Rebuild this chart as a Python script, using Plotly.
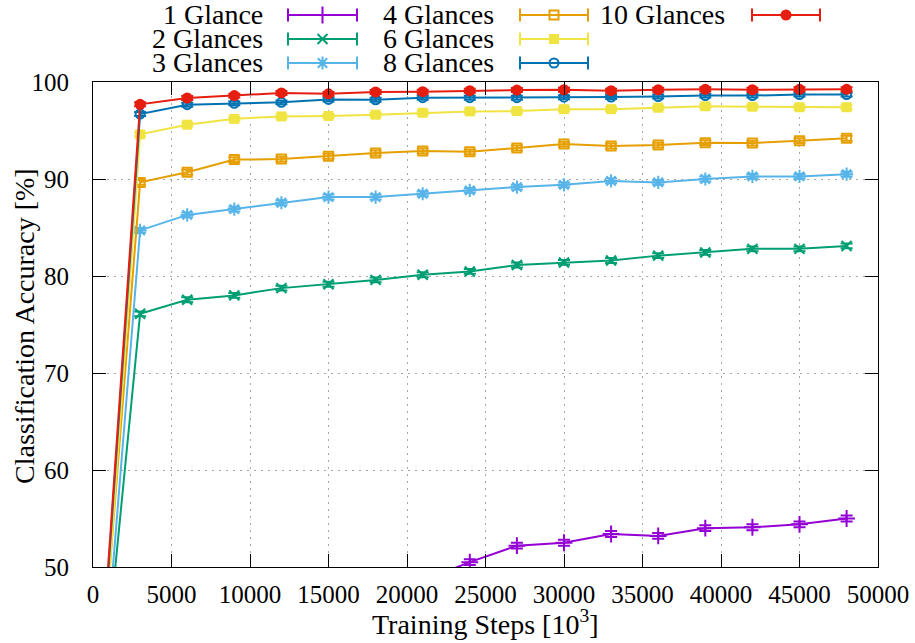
import plotly.graph_objects as go

# Training steps (x 10^3) at which accuracy was evaluated
steps = [0, 3000, 6000, 9000, 12000, 15000, 18000, 21000, 24000,
         27000, 30000, 33000, 36000, 39000, 42000, 45000, 48000]

# Classification accuracy [%] per number of glances
acc_1 = [25.0, 37.5, 41.2, 43.0, 44.6, 45.9, 47.3, 48.6, 50.5,
         52.2, 52.5, 53.4, 53.2, 54.0, 54.1, 54.4, 55.0]
acc_2 = [26.5, 76.1, 77.55, 78.0, 78.75, 79.15, 79.6, 80.13, 80.47,
         81.13, 81.4, 81.6, 82.1, 82.43, 82.8, 82.8, 83.1]
acc_3 = [24.5, 84.7, 86.3, 86.9, 87.55, 88.14, 88.14, 88.48, 88.82,
         89.17, 89.4, 89.8, 89.65, 90.0, 90.27, 90.27, 90.5]
acc_4 = [28.0, 89.65, 90.7, 92.0, 92.05, 92.35, 92.68, 92.89, 92.8,
         93.2, 93.6, 93.4, 93.5, 93.75, 93.7, 93.95, 94.2]
acc_6 = [25.0, 94.6, 95.6, 96.2, 96.45, 96.5, 96.63, 96.83, 96.97,
         97.0, 97.2, 97.2, 97.35, 97.5, 97.45, 97.4, 97.4]
acc_8 = [27.0, 96.7, 97.66, 97.8, 97.9, 98.2, 98.17, 98.38, 98.38,
         98.38, 98.43, 98.45, 98.5, 98.6, 98.6, 98.7, 98.7]
acc_10 = [27.5, 97.7, 98.35, 98.6, 98.87, 98.78, 98.97, 99.0, 99.1,
          99.17, 99.2, 99.1, 99.2, 99.25, 99.2, 99.25, 99.25]

# Half-width of the error bars [%]
err_1, err_2, err_3, err_4, err_6, err_8, err_10 = 0.3, 0.25, 0.25, 0.25, 0.2, 0.2, 0.2

labels = ["1 Glance", "2 Glances", "3 Glances", "4 Glances",
          "6 Glances", "8 Glances", "10 Glances"]
y_ticks = [50, 60, 70, 80, 90, 100]
x_ticks = [0, 5000, 10000, 15000, 20000, 25000, 30000, 35000, 40000, 45000, 50000]

series = [
    (labels[0], acc_1, err_1, "#9400d3", "cross-thin-open", 12),
    (labels[1], acc_2, err_2, "#009e73", "x-thin-open", 10),
    (labels[2], acc_3, err_3, "#56b4e9", "asterisk-open", 11),
    (labels[3], acc_4, err_4, "#e69f00", "square-open", 9),
    (labels[4], acc_6, err_6, "#f0e442", "square", 10),
    (labels[5], acc_8, err_8, "#0072b2", "circle-open", 9),
    (labels[6], acc_10, err_10, "#e51e10", "circle", 11),
]

FONT = "Liberation Serif, Tinos, Times New Roman, DejaVu Serif, serif"
TXT = 28   # key and axis-title size
TICK = 25  # tick-label size
W, H = 915, 643
L, R, B = 93, 37, 76          # margins in px (top margin 0, key area is an inset axis)
PW, PH = W - L - R, H - B     # plot-area size
TOP = 82                      # pixel row of the upper frame edge
dom_top = (PH - TOP) / PH


def px(xp):
    return (xp - L) / PW


def py(yp):
    return (PH - yp) / PH


fig = go.Figure()

for name, acc, err, color, sym, size in series:
    filled = sym in ("square", "circle")
    fig.add_trace(go.Scatter(
        x=steps, y=acc, name=name, mode="lines+markers",
        line=dict(color=color, width=2),
        marker=dict(symbol=sym, size=size, color=color,
                    line=dict(color=color, width=0 if filled else 2)),
        error_y=dict(type="constant", value=err, color=color,
                     thickness=2, width=6),
        showlegend=False, xaxis="x", yaxis="y",
    ))

# Key: three columns, text right-aligned left of the sample line
col_text = [265, 496, 727]
col_line = [(288, 357), (520, 588), (752, 820)]
rows = [15, 39, 63]
slots = [(0, 0), (0, 1), (0, 2), (1, 0), (1, 1), (1, 2), (2, 0)]

annotations = []
shapes = []
for (name, acc, err, color, sym, size), (c, r) in zip(series, slots):
    x0, x1 = col_line[c]
    yc = rows[r]
    xm = (x0 + x1) / 2
    filled = sym in ("square", "circle")
    fig.add_trace(go.Scatter(
        x=[x0, x1], y=[yc, yc], mode="lines",
        line=dict(color=color, width=2),
        showlegend=False, hoverinfo="skip", xaxis="x2", yaxis="y2",
    ))
    fig.add_trace(go.Scatter(
        x=[xm], y=[yc], mode="markers",
        marker=dict(symbol=sym, size=size, color=color,
                    line=dict(color=color, width=0 if filled else 2)),
        showlegend=False, hoverinfo="skip", xaxis="x2", yaxis="y2",
    ))
    for xe in (x0, x1):
        shapes.append(dict(type="line", xref="x2", yref="y2",
                           x0=xe, x1=xe, y0=yc - 6.5, y1=yc + 6.5,
                           line=dict(color=color, width=2)))
    annotations.append(dict(
        text=name, xref="x2", yref="y2", x=col_text[c], y=yc - 1,
        xanchor="right", yanchor="middle", showarrow=False,
        font=dict(family=FONT, size=TXT, color="black"),
    ))

annotations.append(dict(
    text="Classification Accuracy [%]", textangle=-90,
    xref="paper", yref="paper", x=px(24), y=py(326),
    xanchor="center", yanchor="middle", showarrow=False,
    font=dict(family=FONT, size=TXT, color="black"),
))
annotations.append(dict(
    text="Training Steps [10<sup>3</sup>]",
    xref="paper", yref="paper", x=px((L + W - R) / 2), y=py(622),
    xanchor="center", yanchor="middle", showarrow=False,
    font=dict(family=FONT, size=TXT, color="black"),
))

axis_common = dict(
    showline=True, linecolor="black", linewidth=1.2, mirror="allticks",
    ticks="inside", ticklen=13, tickwidth=1.2, tickcolor="black",
    showgrid=True, gridcolor="#a8a8a8", gridwidth=1, griddash="2px,5px",
    zeroline=False, tickfont=dict(family=FONT, size=TICK, color="black"),
)

fig.update_layout(
    width=W, height=H,
    margin=dict(l=L, r=R, t=0, b=B, autoexpand=False),
    paper_bgcolor="white", plot_bgcolor="white",
    font=dict(family=FONT, size=TICK, color="black"),
    xaxis=dict(range=[0, 50000], tickvals=x_ticks, tickformat="d", domain=[0, 1],
               anchor="y", ticklabelstandoff=5, **axis_common),
    yaxis=dict(range=[50, 100], tickvals=y_ticks, domain=[0, dom_top],
               anchor="x", ticklabelstandoff=18, **axis_common),
    xaxis2=dict(range=[L, W - R], domain=[0, 1], anchor="y2", visible=False),
    yaxis2=dict(range=[TOP, 0], domain=[dom_top, 1], anchor="x2", visible=False),
    annotations=annotations,
    shapes=shapes,
)

fig.write_html("out.html")
